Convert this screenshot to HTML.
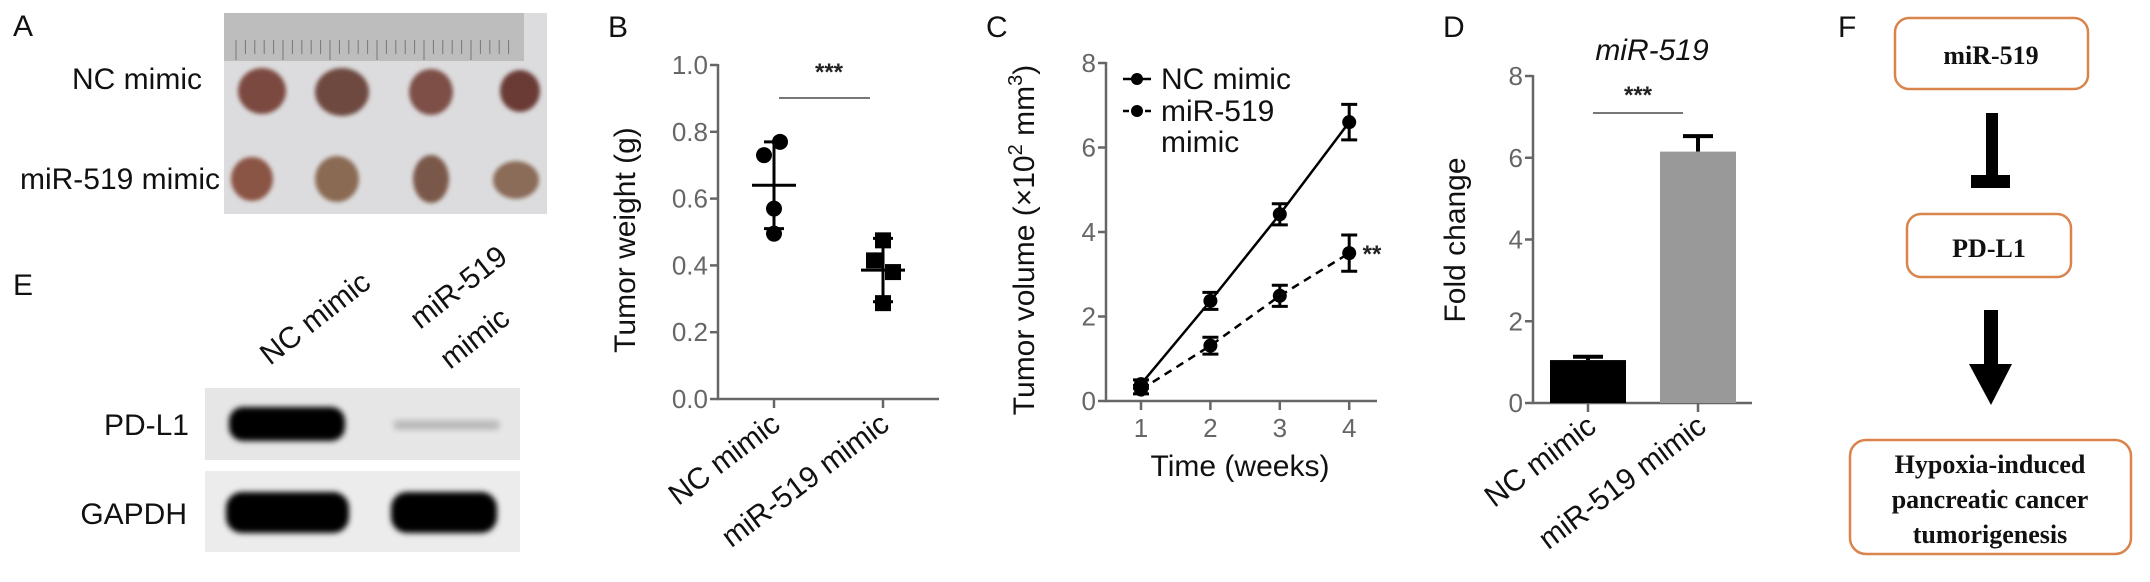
<!DOCTYPE html>
<html><head><meta charset="utf-8">
<style>
html,body{margin:0;padding:0;background:#fff;}
svg{display:block;font-family:"Liberation Sans",Arial,sans-serif;}
.lab{font-size:30px;fill:#111;}
.tick{font-size:26px;fill:#666;}
.ax{stroke:#666;stroke-width:2.5;fill:none;}
.serif{font-family:"Liberation Serif",serif;font-weight:bold;font-size:26px;fill:#111;}
</style></head>
<body>
<svg id="fig" width="2150" height="582" viewBox="0 0 2150 582">
<defs>
<filter id="blur" x="-20%" y="-40%" width="140%" height="180%"><feGaussianBlur stdDeviation="3"/></filter>
<filter id="blur2"><feGaussianBlur stdDeviation="2"/></filter>
</defs>
<!-- Panel A -->
<g>
<text x="13" y="36" class="lab">A</text>
<rect x="224" y="13" width="323" height="201" fill="#dcdcde"/>
<rect x="224" y="13" width="300" height="48" fill="#bdbdbd"/>
<g id="ruler-ticks"></g>
<g id="tumors"></g>
<text x="202" y="89" class="lab" text-anchor="end">NC mimic</text>
<text x="220" y="189" class="lab" text-anchor="end">miR-519 mimic</text>
</g>
<!-- Panel E -->
<g>
<text x="13" y="295" class="lab">E</text>
<text transform="translate(270,366) rotate(-38)" class="lab">NC mimic</text>
<text transform="translate(420,330) rotate(-38)" class="lab">miR-519</text>
<text transform="translate(450,370) rotate(-38)" class="lab">mimic</text>
<rect x="205" y="388" width="315" height="72" fill="#e6e6e6"/>
<rect x="205" y="471" width="315" height="81" fill="#ececec"/>
<rect x="229" y="407" width="116" height="34" rx="14" fill="#000" filter="url(#blur)"/>
<rect x="393" y="420" width="107" height="10" rx="5" fill="#bbb" filter="url(#blur)"/>
<rect x="226" y="492" width="123" height="41" rx="16" fill="#000" filter="url(#blur)"/>
<rect x="391" y="492" width="106" height="41" rx="16" fill="#000" filter="url(#blur)"/>
<text x="189" y="435" class="lab" text-anchor="end">PD-L1</text>
<text x="187" y="524" class="lab" text-anchor="end">GAPDH</text>
</g>
<!-- Panel B -->
<g id="panelB">
<text x="608" y="37" class="lab">B</text>
<text transform="translate(635,240) rotate(-90)" class="lab" text-anchor="middle">Tumor weight (g)</text>
</g>
<!-- Panel C -->
<g id="panelC">
<text x="986" y="37" class="lab">C</text>
<text transform="translate(1034,240) rotate(-90)" class="lab" text-anchor="middle">Tumor volume (×10<tspan dy="-12" font-size="20">2</tspan><tspan dy="12"> mm</tspan><tspan dy="-12" font-size="20">3</tspan><tspan dy="12">)</tspan></text>
<text x="1240" y="476" class="lab" text-anchor="middle" font-size="28">Time (weeks)</text>
</g>
<!-- Panel D -->
<g id="panelD">
<text x="1443" y="37" class="lab">D</text>
<text x="1652" y="60" class="lab" font-style="italic" text-anchor="middle">miR-519</text>
<text transform="translate(1465,240) rotate(-90)" class="lab" text-anchor="middle">Fold change</text>
</g>
<!-- Panel F -->
<g>
<text x="1838" y="37" class="lab">F</text>
<rect x="1895" y="18" width="193" height="71" rx="14" fill="#fff" stroke="#d9844c" stroke-width="2.5"/>
<text x="1991" y="64" class="serif" text-anchor="middle">miR-519</text>
<rect x="1986" y="113" width="12" height="64" fill="#000"/>
<rect x="1971" y="175" width="39" height="13" fill="#000"/>
<rect x="1907" y="214" width="164" height="63" rx="14" fill="#fff" stroke="#d9844c" stroke-width="2.5"/>
<text x="1989" y="257" class="serif" text-anchor="middle">PD-L1</text>
<rect x="1984" y="310" width="14" height="56" fill="#000"/>
<polygon points="1969,364 2012,364 1991,405" fill="#000"/>
<rect x="1850" y="440" width="281" height="114" rx="16" fill="#fff" stroke="#d9844c" stroke-width="2.5"/>
<text x="1990" y="473" class="serif" text-anchor="middle">Hypoxia-induced</text>
<text x="1990" y="508" class="serif" text-anchor="middle">pancreatic cancer</text>
<text x="1990" y="543" class="serif" text-anchor="middle">tumorigenesis</text>
</g>
</svg>
<script>
// ---- Panel B data ----
const bGroups = ["NC mimic", "miR-519 mimic"];
const bNC = [0.77, 0.73, 0.57, 0.495];
const bMir = [0.475, 0.415, 0.38, 0.287];
const bMean = [0.64, 0.386];
const bSD = [0.13, 0.095];
const bTicks = [0, 0.2, 0.4, 0.6, 0.8, 1.0];
const bTickLabels = ["0.0", "0.2", "0.4", "0.6", "0.8", "1.0"];
// ---- Panel C data ----
const cWeeks = [1, 2, 3, 4];
const cNC = [0.4, 2.37, 4.42, 6.6];
const cNCerr = [0.1, 0.2, 0.25, 0.42];
const cMir = [0.27, 1.31, 2.49, 3.5];
const cMirErr = [0.1, 0.2, 0.25, 0.43];
const cTicks = [0, 2, 4, 6, 8];
// ---- Panel D data ----
const dGroups = ["NC mimic", "miR-519 mimic"];
const dValues = [1.05, 6.15];
const dErr = [0.08, 0.38];
const dTicks = [0, 2, 4, 6, 8];

const NS = "http://www.w3.org/2000/svg";
function mk(parent, tag, attrs, text) {
  const e = document.createElementNS(NS, tag);
  for (const k in attrs) e.setAttribute(k, attrs[k]);
  if (text !== undefined) e.textContent = text;
  parent.appendChild(e);
  return e;
}

// ruler + tumors
const rt = document.getElementById('ruler-ticks');
for (let i = 0; i < 30; i++) {
  const x = 236 + i * 9.4;
  const l = mk(rt, 'line', {x1: x, x2: x, y1: 40, y2: i % 5 === 0 ? 60 : 54, stroke: '#777', 'stroke-width': 1});
  
  
}
const tg = document.getElementById('tumors');
[[262,91,24,23,'#7c4a40'],[342,92,27,24,'#6e4841'],[431,92,22,23,'#7d5047'],[520,91,20,21,'#6a3b36'],
 [252,179,21,22,'#8a5445'],[337,179,22,23,'#8a6a52'],[431,179,18,24,'#7a5848'],[516,180,23,19,'#8a6c58']].forEach(t=>{
  const e = mk(tg,'ellipse',{cx:t[0],cy:t[1],rx:t[2],ry:t[3],fill:t[4],filter:'url(#blur2)'});
  
  
});

// Panel B
(function(){
  const g = document.getElementById('panelB');
  const y = v => 399 - v * 334;
  const xs = [774, 883];
  let e = mk(g,'path',{d:'M718,'+(y(1)-1)+' V399 H939',class:'ax'});
   
  bTicks.forEach((t,i)=>{
    let l = mk(g,'line',{x1:710,x2:718,y1:y(t),y2:y(t),class:'ax'});
     
    let tx = mk(g,'text',{x:708,y:y(t)+9,class:'tick','text-anchor':'end'},bTickLabels[i]);
     
  });
  bGroups.forEach((gname,i)=>{
    let l = mk(g,'line',{x1:xs[i],x2:xs[i],y1:399,y2:408,class:'ax'});
     
    let tx = mk(g,'text',{transform:`translate(${xs[i]+8},${428}) rotate(-37)`,class:'lab','text-anchor':'end'},gname);
     
  });
  const pts = [bNC, bMir];
  const offs = [[6,-10,0,0],[0,-9,10,0]];
  pts.forEach((arr,i)=>{
    arr.forEach((v,j)=>{
      let m;
      if (i===0) m = mk(g,'circle',{cx:xs[i]+offs[i][j],cy:y(v),r:8,fill:'#000'});
      else m = mk(g,'rect',{x:xs[i]+offs[i][j]-8,y:y(v)-8,width:16,height:16,fill:'#000'});
      
      
    });
    const mean = bMean[i], sd = bSD[i];
    let ml = mk(g,'line',{x1:xs[i]-22,x2:xs[i]+22,y1:y(mean),y2:y(mean),stroke:'#000','stroke-width':3});
     
    let eb = mk(g,'path',{d:`M${xs[i]},${y(mean+sd)}V${y(mean-sd)}M${xs[i]-10},${y(mean+sd)}h20M${xs[i]-10},${y(mean-sd)}h20`,stroke:'#000','stroke-width':3,fill:'none'});
     
  });
  let s = mk(g,'line',{x1:779,x2:870,y1:98,y2:98,stroke:'#777','stroke-width':2});
   
  let st = mk(g,'text',{x:829,y:80,'text-anchor':'middle','font-size':24,'font-weight':'bold',fill:'#222'},'***');
   
})();

// Panel C
(function(){
  const g = document.getElementById('panelC');
  const y = v => 401 - v * 42.25;
  const x = w => 1141 + (w - 1) * 69.4;
  let e = mk(g,'path',{d:'M1106,'+(y(8)-1)+' V401 H1377',class:'ax'});
   
  cTicks.forEach(t=>{
    let l = mk(g,'line',{x1:1098,x2:1106,y1:y(t),y2:y(t),class:'ax'});
     
    let tx = mk(g,'text',{x:1096,y:y(t)+9,class:'tick','text-anchor':'end'},String(t));
     
  });
  cWeeks.forEach(w=>{
    let l = mk(g,'line',{x1:x(w),x2:x(w),y1:401,y2:410,class:'ax'});
     
    let tx = mk(g,'text',{x:x(w),y:437,class:'tick','text-anchor':'middle'},String(w));
     
  });
  const series = [[cNC,cNCerr,'none','nc-mimic'],[cMir,cMirErr,'8,6','mir519-mimic']];
  series.forEach(s=>{
    const d = s[0].map((v,i)=>(i?'L':'M')+x(cWeeks[i])+','+y(v)).join('');
    let p = mk(g,'path',{d:d,stroke:'#000','stroke-width':2.5,fill:'none','stroke-dasharray':s[2]});
     
    s[0].forEach((v,i)=>{
      const xx = x(cWeeks[i]), hi = y(v+s[1][i]), lo = y(v-s[1][i]);
      let eb = mk(g,'path',{d:`M${xx},${hi}V${lo}M${xx-8},${hi}h16M${xx-8},${lo}h16`,stroke:'#000','stroke-width':3,fill:'none'});
       
      let c = mk(g,'circle',{cx:xx,cy:y(v),r:7,fill:'#000'});
       
    });
  });
  let l1 = mk(g,'line',{x1:1123,x2:1151,y1:79,y2:79,stroke:'#000','stroke-width':2.5});
   
  let c1 = mk(g,'circle',{cx:1137,cy:79,r:6,fill:'#000'});
   
  let t1 = mk(g,'text',{x:1161,y:89,class:'lab','font-size':28},'NC mimic');
   
  let l2 = mk(g,'line',{x1:1123,x2:1151,y1:111,y2:111,stroke:'#000','stroke-width':2.5,'stroke-dasharray':'6,5'});
   
  let c2 = mk(g,'circle',{cx:1137,cy:111,r:6,fill:'#000'});
   
  let t2 = mk(g,'text',{x:1161,y:121,class:'lab','font-size':28},'miR-519');
   
  let t3 = mk(g,'text',{x:1161,y:152,class:'lab','font-size':28},'mimic');
   
  let st = mk(g,'text',{x:1372,y:262,'text-anchor':'middle','font-size':24,'font-weight':'bold',fill:'#222'},'**');
   
})();

// Panel D
(function(){
  const g = document.getElementById('panelD');
  const y = v => 403 - v * 40.875;
  const xs = [1588, 1698];
  const fills = ['#000', '#999'];
  let e = mk(g,'path',{d:'M1533,'+(y(8)-1)+' V403 H1752',class:'ax'});
   
  dTicks.forEach(t=>{
    let l = mk(g,'line',{x1:1525,x2:1533,y1:y(t),y2:y(t),class:'ax'});
     
    let tx = mk(g,'text',{x:1523,y:y(t)+9,class:'tick','text-anchor':'end'},String(t));
     
  });
  dGroups.forEach((gname,i)=>{
    const v = dValues[i];
    let eb = mk(g,'path',{d:`M${xs[i]},${y(v)}V${y(v+dErr[i])}M${xs[i]-15},${y(v+dErr[i])}h30`,stroke:'#000','stroke-width':4,fill:'none'});
     
    let b = mk(g,'rect',{x:xs[i]-38,y:y(v),width:76,height:403-y(v),fill:fills[i]});
    
    
    let l = mk(g,'line',{x1:xs[i],x2:xs[i],y1:403,y2:412,class:'ax'});
     
    let tx = mk(g,'text',{transform:`translate(${xs[i]+10},${430}) rotate(-37)`,class:'lab','text-anchor':'end'},gname);
     
  });
  let s = mk(g,'line',{x1:1593,x2:1683,y1:113,y2:113,stroke:'#777','stroke-width':2});
   
  let st = mk(g,'text',{x:1638,y:103,'text-anchor':'middle','font-size':24,'font-weight':'bold',fill:'#222'},'***');
   
})();
</script>
</body></html>
